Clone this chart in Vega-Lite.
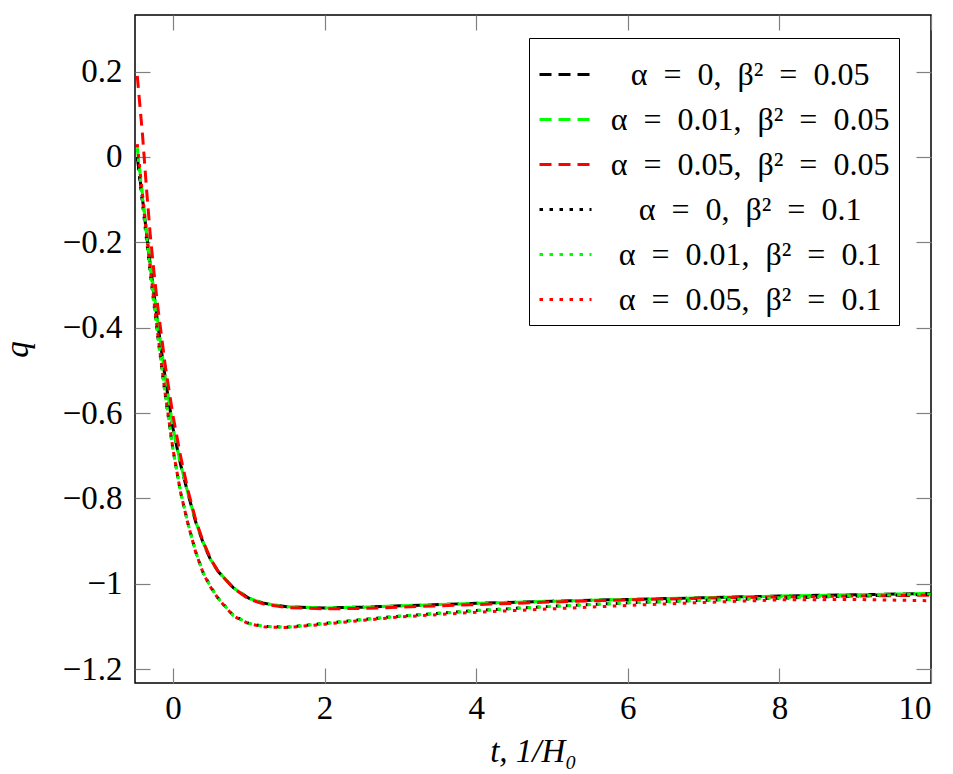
{
  "$schema": "https://vega.github.io/schema/vega-lite/v6.json",
  "width": 796,
  "height": 668,
  "autosize": "none",
  "padding": {"left": 135, "top": 15, "right": 22, "bottom": 91},
  "background": "white",
  "config": {
    "font": "Liberation Serif",
    "view": {"stroke": "black", "strokeWidth": 1.5},
    "axis": {
      "grid": false,
      "domain": false,
      "tickColor": "#808080",
      "tickWidth": 1.2,
      "tickSize": -15,
      "labelFont": "Liberation Serif",
      "labelFontSize": 33,
      "labelColor": "black",
      "labelPadding": 28,
      "titleFont": "Liberation Serif",
      "titleFontSize": 33,
      "titleFontWeight": "normal",
      "titleFontStyle": "italic",
      "titleColor": "black"
    },
    "legend": {
      "orient": "none",
      "legendX": 394,
      "legendY": 23,
      "fillColor": "white",
      "strokeColor": "black",
      "padding": 9,
      "symbolType": "stroke",
      "symbolSize": 2704,
      "symbolStrokeWidth": 3,
      "labelFont": "Liberation Serif",
      "labelFontSize": 32,
      "labelColor": "black",
      "labelAlign": "center",
      "labelOffset": 157,
      "labelLimit": 500,
      "rowPadding": 1
    }
  },
  "data": {
    "values": [
      {"series": "α = 0, β² = 0.05", "t": -0.47, "q": 0.0},
      {"series": "α = 0, β² = 0.05", "t": -0.4, "q": -0.10},
      {"series": "α = 0, β² = 0.05", "t": -0.3, "q": -0.25},
      {"series": "α = 0, β² = 0.05", "t": -0.2, "q": -0.39},
      {"series": "α = 0, β² = 0.05", "t": -0.1, "q": -0.52},
      {"series": "α = 0, β² = 0.05", "t": 0, "q": -0.635},
      {"series": "α = 0, β² = 0.05", "t": 0.1, "q": -0.72},
      {"series": "α = 0, β² = 0.05", "t": 0.2, "q": -0.79},
      {"series": "α = 0, β² = 0.05", "t": 0.3, "q": -0.855},
      {"series": "α = 0, β² = 0.05", "t": 0.4, "q": -0.905},
      {"series": "α = 0, β² = 0.05", "t": 0.5, "q": -0.945},
      {"series": "α = 0, β² = 0.05", "t": 0.6, "q": -0.972},
      {"series": "α = 0, β² = 0.05", "t": 0.8, "q": -1.010},
      {"series": "α = 0, β² = 0.05", "t": 1.0, "q": -1.034},
      {"series": "α = 0, β² = 0.05", "t": 1.2, "q": -1.046},
      {"series": "α = 0, β² = 0.05", "t": 1.5, "q": -1.054},
      {"series": "α = 0, β² = 0.05", "t": 2, "q": -1.057},
      {"series": "α = 0, β² = 0.05", "t": 2.5, "q": -1.055},
      {"series": "α = 0, β² = 0.05", "t": 3, "q": -1.052},
      {"series": "α = 0, β² = 0.05", "t": 4, "q": -1.046},
      {"series": "α = 0, β² = 0.05", "t": 5, "q": -1.041},
      {"series": "α = 0, β² = 0.05", "t": 6, "q": -1.037},
      {"series": "α = 0, β² = 0.05", "t": 7, "q": -1.033},
      {"series": "α = 0, β² = 0.05", "t": 8, "q": -1.029},
      {"series": "α = 0, β² = 0.05", "t": 9, "q": -1.026},
      {"series": "α = 0, β² = 0.05", "t": 10, "q": -1.023},

      {"series": "α = 0.01, β² = 0.05", "t": -0.47, "q": 0.02},
      {"series": "α = 0.01, β² = 0.05", "t": -0.4, "q": -0.09},
      {"series": "α = 0.01, β² = 0.05", "t": -0.3, "q": -0.245},
      {"series": "α = 0.01, β² = 0.05", "t": -0.2, "q": -0.385},
      {"series": "α = 0.01, β² = 0.05", "t": -0.1, "q": -0.517},
      {"series": "α = 0.01, β² = 0.05", "t": 0, "q": -0.633},
      {"series": "α = 0.01, β² = 0.05", "t": 0.1, "q": -0.719},
      {"series": "α = 0.01, β² = 0.05", "t": 0.2, "q": -0.789},
      {"series": "α = 0.01, β² = 0.05", "t": 0.3, "q": -0.854},
      {"series": "α = 0.01, β² = 0.05", "t": 0.4, "q": -0.904},
      {"series": "α = 0.01, β² = 0.05", "t": 0.5, "q": -0.944},
      {"series": "α = 0.01, β² = 0.05", "t": 0.6, "q": -0.972},
      {"series": "α = 0.01, β² = 0.05", "t": 0.8, "q": -1.010},
      {"series": "α = 0.01, β² = 0.05", "t": 1.0, "q": -1.034},
      {"series": "α = 0.01, β² = 0.05", "t": 1.2, "q": -1.046},
      {"series": "α = 0.01, β² = 0.05", "t": 1.5, "q": -1.054},
      {"series": "α = 0.01, β² = 0.05", "t": 2, "q": -1.057},
      {"series": "α = 0.01, β² = 0.05", "t": 2.5, "q": -1.055},
      {"series": "α = 0.01, β² = 0.05", "t": 3, "q": -1.052},
      {"series": "α = 0.01, β² = 0.05", "t": 4, "q": -1.046},
      {"series": "α = 0.01, β² = 0.05", "t": 5, "q": -1.041},
      {"series": "α = 0.01, β² = 0.05", "t": 6, "q": -1.037},
      {"series": "α = 0.01, β² = 0.05", "t": 7, "q": -1.033},
      {"series": "α = 0.01, β² = 0.05", "t": 8, "q": -1.029},
      {"series": "α = 0.01, β² = 0.05", "t": 9, "q": -1.026},
      {"series": "α = 0.01, β² = 0.05", "t": 10, "q": -1.023},

      {"series": "α = 0.05, β² = 0.05", "t": -0.47, "q": 0.19},
      {"series": "α = 0.05, β² = 0.05", "t": -0.44, "q": 0.13},
      {"series": "α = 0.05, β² = 0.05", "t": -0.4, "q": 0.05},
      {"series": "α = 0.05, β² = 0.05", "t": -0.35, "q": -0.07},
      {"series": "α = 0.05, β² = 0.05", "t": -0.3, "q": -0.18},
      {"series": "α = 0.05, β² = 0.05", "t": -0.25, "q": -0.27},
      {"series": "α = 0.05, β² = 0.05", "t": -0.2, "q": -0.35},
      {"series": "α = 0.05, β² = 0.05", "t": -0.1, "q": -0.49},
      {"series": "α = 0.05, β² = 0.05", "t": 0, "q": -0.605},
      {"series": "α = 0.05, β² = 0.05", "t": 0.1, "q": -0.70},
      {"series": "α = 0.05, β² = 0.05", "t": 0.2, "q": -0.782},
      {"series": "α = 0.05, β² = 0.05", "t": 0.3, "q": -0.85},
      {"series": "α = 0.05, β² = 0.05", "t": 0.4, "q": -0.902},
      {"series": "α = 0.05, β² = 0.05", "t": 0.5, "q": -0.943},
      {"series": "α = 0.05, β² = 0.05", "t": 0.6, "q": -0.972},
      {"series": "α = 0.05, β² = 0.05", "t": 0.8, "q": -1.011},
      {"series": "α = 0.05, β² = 0.05", "t": 1.0, "q": -1.036},
      {"series": "α = 0.05, β² = 0.05", "t": 1.2, "q": -1.048},
      {"series": "α = 0.05, β² = 0.05", "t": 1.5, "q": -1.056},
      {"series": "α = 0.05, β² = 0.05", "t": 2, "q": -1.059},
      {"series": "α = 0.05, β² = 0.05", "t": 2.5, "q": -1.058},
      {"series": "α = 0.05, β² = 0.05", "t": 3, "q": -1.055},
      {"series": "α = 0.05, β² = 0.05", "t": 4, "q": -1.049},
      {"series": "α = 0.05, β² = 0.05", "t": 5, "q": -1.043},
      {"series": "α = 0.05, β² = 0.05", "t": 6, "q": -1.038},
      {"series": "α = 0.05, β² = 0.05", "t": 7, "q": -1.034},
      {"series": "α = 0.05, β² = 0.05", "t": 8, "q": -1.031},
      {"series": "α = 0.05, β² = 0.05", "t": 9, "q": -1.029},
      {"series": "α = 0.05, β² = 0.05", "t": 10, "q": -1.027},

      {"series": "α = 0, β² = 0.1", "t": -0.47, "q": 0.0},
      {"series": "α = 0, β² = 0.1", "t": -0.4, "q": -0.11},
      {"series": "α = 0, β² = 0.1", "t": -0.3, "q": -0.27},
      {"series": "α = 0, β² = 0.1", "t": -0.2, "q": -0.42},
      {"series": "α = 0, β² = 0.1", "t": -0.1, "q": -0.56},
      {"series": "α = 0, β² = 0.1", "t": 0, "q": -0.685},
      {"series": "α = 0, β² = 0.1", "t": 0.1, "q": -0.785},
      {"series": "α = 0, β² = 0.1", "t": 0.2, "q": -0.86},
      {"series": "α = 0, β² = 0.1", "t": 0.3, "q": -0.925},
      {"series": "α = 0, β² = 0.1", "t": 0.4, "q": -0.975},
      {"series": "α = 0, β² = 0.1", "t": 0.5, "q": -1.008},
      {"series": "α = 0, β² = 0.1", "t": 0.6, "q": -1.035},
      {"series": "α = 0, β² = 0.1", "t": 0.8, "q": -1.075},
      {"series": "α = 0, β² = 0.1", "t": 1.0, "q": -1.093},
      {"series": "α = 0, β² = 0.1", "t": 1.2, "q": -1.100},
      {"series": "α = 0, β² = 0.1", "t": 1.5, "q": -1.102},
      {"series": "α = 0, β² = 0.1", "t": 2, "q": -1.093},
      {"series": "α = 0, β² = 0.1", "t": 2.5, "q": -1.084},
      {"series": "α = 0, β² = 0.1", "t": 3, "q": -1.076},
      {"series": "α = 0, β² = 0.1", "t": 4, "q": -1.063},
      {"series": "α = 0, β² = 0.1", "t": 5, "q": -1.053},
      {"series": "α = 0, β² = 0.1", "t": 6, "q": -1.045},
      {"series": "α = 0, β² = 0.1", "t": 7, "q": -1.039},
      {"series": "α = 0, β² = 0.1", "t": 8, "q": -1.034},
      {"series": "α = 0, β² = 0.1", "t": 9, "q": -1.029},
      {"series": "α = 0, β² = 0.1", "t": 10, "q": -1.025},

      {"series": "α = 0.01, β² = 0.1", "t": -0.47, "q": 0.02},
      {"series": "α = 0.01, β² = 0.1", "t": -0.4, "q": -0.10},
      {"series": "α = 0.01, β² = 0.1", "t": -0.3, "q": -0.265},
      {"series": "α = 0.01, β² = 0.1", "t": -0.2, "q": -0.417},
      {"series": "α = 0.01, β² = 0.1", "t": -0.1, "q": -0.558},
      {"series": "α = 0.01, β² = 0.1", "t": 0, "q": -0.684},
      {"series": "α = 0.01, β² = 0.1", "t": 0.1, "q": -0.784},
      {"series": "α = 0.01, β² = 0.1", "t": 0.2, "q": -0.86},
      {"series": "α = 0.01, β² = 0.1", "t": 0.3, "q": -0.925},
      {"series": "α = 0.01, β² = 0.1", "t": 0.4, "q": -0.975},
      {"series": "α = 0.01, β² = 0.1", "t": 0.5, "q": -1.008},
      {"series": "α = 0.01, β² = 0.1", "t": 0.6, "q": -1.035},
      {"series": "α = 0.01, β² = 0.1", "t": 0.8, "q": -1.075},
      {"series": "α = 0.01, β² = 0.1", "t": 1.0, "q": -1.093},
      {"series": "α = 0.01, β² = 0.1", "t": 1.2, "q": -1.100},
      {"series": "α = 0.01, β² = 0.1", "t": 1.5, "q": -1.102},
      {"series": "α = 0.01, β² = 0.1", "t": 2, "q": -1.093},
      {"series": "α = 0.01, β² = 0.1", "t": 2.5, "q": -1.084},
      {"series": "α = 0.01, β² = 0.1", "t": 3, "q": -1.076},
      {"series": "α = 0.01, β² = 0.1", "t": 4, "q": -1.063},
      {"series": "α = 0.01, β² = 0.1", "t": 5, "q": -1.053},
      {"series": "α = 0.01, β² = 0.1", "t": 6, "q": -1.045},
      {"series": "α = 0.01, β² = 0.1", "t": 7, "q": -1.039},
      {"series": "α = 0.01, β² = 0.1", "t": 8, "q": -1.033},
      {"series": "α = 0.01, β² = 0.1", "t": 9, "q": -1.028},
      {"series": "α = 0.01, β² = 0.1", "t": 10, "q": -1.024},

      {"series": "α = 0.05, β² = 0.1", "t": -0.47, "q": 0.03},
      {"series": "α = 0.05, β² = 0.1", "t": -0.4, "q": -0.09},
      {"series": "α = 0.05, β² = 0.1", "t": -0.3, "q": -0.26},
      {"series": "α = 0.05, β² = 0.1", "t": -0.2, "q": -0.415},
      {"series": "α = 0.05, β² = 0.1", "t": -0.1, "q": -0.557},
      {"series": "α = 0.05, β² = 0.1", "t": 0, "q": -0.684},
      {"series": "α = 0.05, β² = 0.1", "t": 0.1, "q": -0.785},
      {"series": "α = 0.05, β² = 0.1", "t": 0.2, "q": -0.861},
      {"series": "α = 0.05, β² = 0.1", "t": 0.3, "q": -0.926},
      {"series": "α = 0.05, β² = 0.1", "t": 0.4, "q": -0.976},
      {"series": "α = 0.05, β² = 0.1", "t": 0.5, "q": -1.009},
      {"series": "α = 0.05, β² = 0.1", "t": 0.6, "q": -1.036},
      {"series": "α = 0.05, β² = 0.1", "t": 0.8, "q": -1.076},
      {"series": "α = 0.05, β² = 0.1", "t": 1.0, "q": -1.094},
      {"series": "α = 0.05, β² = 0.1", "t": 1.2, "q": -1.101},
      {"series": "α = 0.05, β² = 0.1", "t": 1.5, "q": -1.103},
      {"series": "α = 0.05, β² = 0.1", "t": 2, "q": -1.095},
      {"series": "α = 0.05, β² = 0.1", "t": 2.5, "q": -1.086},
      {"series": "α = 0.05, β² = 0.1", "t": 3, "q": -1.078},
      {"series": "α = 0.05, β² = 0.1", "t": 4, "q": -1.067},
      {"series": "α = 0.05, β² = 0.1", "t": 5, "q": -1.059},
      {"series": "α = 0.05, β² = 0.1", "t": 6, "q": -1.051},
      {"series": "α = 0.05, β² = 0.1", "t": 7, "q": -1.044},
      {"series": "α = 0.05, β² = 0.1", "t": 8, "q": -1.038},
      {"series": "α = 0.05, β² = 0.1", "t": 9, "q": -1.037},
      {"series": "α = 0.05, β² = 0.1", "t": 10, "q": -1.040}
    ]
  },
  "layer": [
    {
      "mark": {"type": "line", "strokeWidth": 3, "clip": true},
      "encoding": {
        "x": {
          "field": "t", "type": "quantitative",
          "scale": {"domain": [-0.5, 10], "nice": false, "zero": false},
          "axis": {"orient": "bottom", "values": [0, 2, 4, 6, 8, 10], "format": "d", "title": "t, 1/H₀", "titlePadding": 10, "labelPadding": 24}
        },
        "y": {
          "field": "q", "type": "quantitative",
          "scale": {"domain": [-1.2328, 0.3328], "nice": false, "zero": false},
          "axis": {"orient": "left", "values": [-1.2, -1, -0.8, -0.6, -0.4, -0.2, 0, 0.2], "format": ".1~f", "title": "q", "titlePadding": 28}
        },
        "color": {
          "field": "series", "type": "nominal",
          "scale": {
            "domain": ["α = 0, β² = 0.05", "α = 0.01, β² = 0.05", "α = 0.05, β² = 0.05", "α = 0, β² = 0.1", "α = 0.01, β² = 0.1", "α = 0.05, β² = 0.1"],
            "range": ["#000000", "#00ff00", "#ff0000", "#000000", "#00ff00", "#ff0000"]
          },
          "legend": {"title": null, "labelExpr": "replace(replace(replace(datum.label, ' = ', '\u2002=\u2002'), ' = ', '\u2002=\u2002'), ', ', ',\u2002')"}
        },
        "strokeDash": {
          "field": "series", "type": "nominal",
          "scale": {
            "domain": ["α = 0, β² = 0.05", "α = 0.01, β² = 0.05", "α = 0.05, β² = 0.05", "α = 0, β² = 0.1", "α = 0.01, β² = 0.1", "α = 0.05, β² = 0.1"],
            "range": [[12, 7], [12, 7], [12, 7], [3.5, 6.5], [3.5, 6.5], [3.5, 6.5]]
          },
          "legend": {"title": null, "labelExpr": "replace(replace(replace(datum.label, ' = ', '\u2002=\u2002'), ' = ', '\u2002=\u2002'), ', ', ',\u2002')"}
        }
      }
    },
    {
      "mark": {"type": "line", "opacity": 0},
      "encoding": {
        "x": {"field": "t", "type": "quantitative", "axis": {"orient": "top", "values": [0, 2, 4, 6, 8, 10], "labels": false, "title": null}},
        "y": {"field": "q", "type": "quantitative", "axis": {"orient": "right", "values": [-1.2, -1, -0.8, -0.6, -0.4, -0.2, 0, 0.2], "labels": false, "title": null}},
        "detail": {"field": "series", "type": "nominal"}
      }
    }
  ],
  "resolve": {"axis": {"x": "independent", "y": "independent"}}
}
